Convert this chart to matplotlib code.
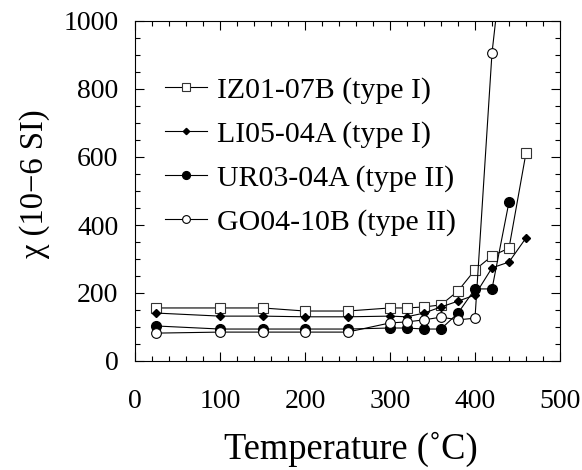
import matplotlib
matplotlib.use("Agg")
import matplotlib.pyplot as plt
from matplotlib.ticker import MultipleLocator

plt.rcParams['font.family'] = ['Liberation Serif', 'DejaVu Serif']

temps = [25, 100, 150, 200, 250, 300, 320, 340, 360, 380, 400, 420, 440, 460]
iz01_07b = [156, 156, 156, 147, 147, 156, 156, 159, 165, 206, 268, 309, 332, 612]
li05_04a = [141, 132, 132, 130, 130, 132, 130, 141, 159, 176, 194, 274, 291, 362]
ur03_temps = [25, 100, 150, 200, 250, 300, 320, 340, 360, 380, 400, 420, 440]
ur03_04a = [103, 94, 94, 94, 94, 97, 97, 94, 94, 141, 212, 212, 468]
go04_temps = [25, 100, 150, 200, 250, 300, 320, 340, 360, 380, 400, 420, 440]
go04_10b = [82, 85, 85, 85, 85, 112, 115, 121, 129, 121, 126, 906, 1350]

labels = ['IZ01-07B (type I)', 'LI05-04A (type I)', 'UR03-04A (type II)', 'GO04-10B (type II)']

fig = plt.figure(figsize=(5.82, 4.70), dpi=100)
ax = fig.add_axes([135/582, 1-361/470, (560-135)/582, 340/470])

lw = 0.8
ax.plot(temps, iz01_07b, color='black', lw=lw, marker='s', ms=7.2, mfc='white', mec='#333333', mew=0.8, label=labels[0])
ax.plot(temps, li05_04a, color='black', lw=lw, marker='D', ms=4.0, mfc='black', mec='black', label=labels[1])
ax.plot(ur03_temps, ur03_04a, color='black', lw=lw, marker='o', ms=7.0, mfc='black', mec='black', label=labels[2])
ax.plot(go04_temps, go04_10b, color='black', lw=lw, marker='o', ms=7.0, mfc='white', mec='black', mew=0.8, label=labels[3])

ax.set_xlim(0, 500)
ax.set_ylim(0, 1000)
ax.xaxis.set_major_locator(MultipleLocator(100))
ax.xaxis.set_minor_locator(MultipleLocator(20))
ax.yaxis.set_major_locator(MultipleLocator(200))
ax.yaxis.set_minor_locator(MultipleLocator(50))
ax.tick_params(which='both', direction='in', top=True, right=True, width=0.8)
ax.tick_params(which='major', length=6.5)
ax.tick_params(which='minor', length=3.3)
ax.tick_params(axis='both', labelsize=20)
ax.tick_params(axis='x', pad=20)
ax.tick_params(axis='y', pad=12)
for s in ax.spines.values():
    s.set_linewidth(0.8)

leg = ax.legend(loc='upper left', bbox_to_anchor=(165/582, 1-77/470), bbox_transform=fig.transFigure,
                frameon=False, fontsize=21.5, handlelength=1.4, handletextpad=0.33,
                labelspacing=0.56, borderpad=0, borderaxespad=0, markerscale=0.8)

fig.text(351/582, 1-449/470, 'Temperature (˚C)', ha='center', va='center', fontsize=26.3)
fig.text(35/582, 1-184/470, 'χ (10−6 SI)', rotation=90, ha='center', va='center', fontsize=23.5)

fig.savefig('out.png', dpi=100)
